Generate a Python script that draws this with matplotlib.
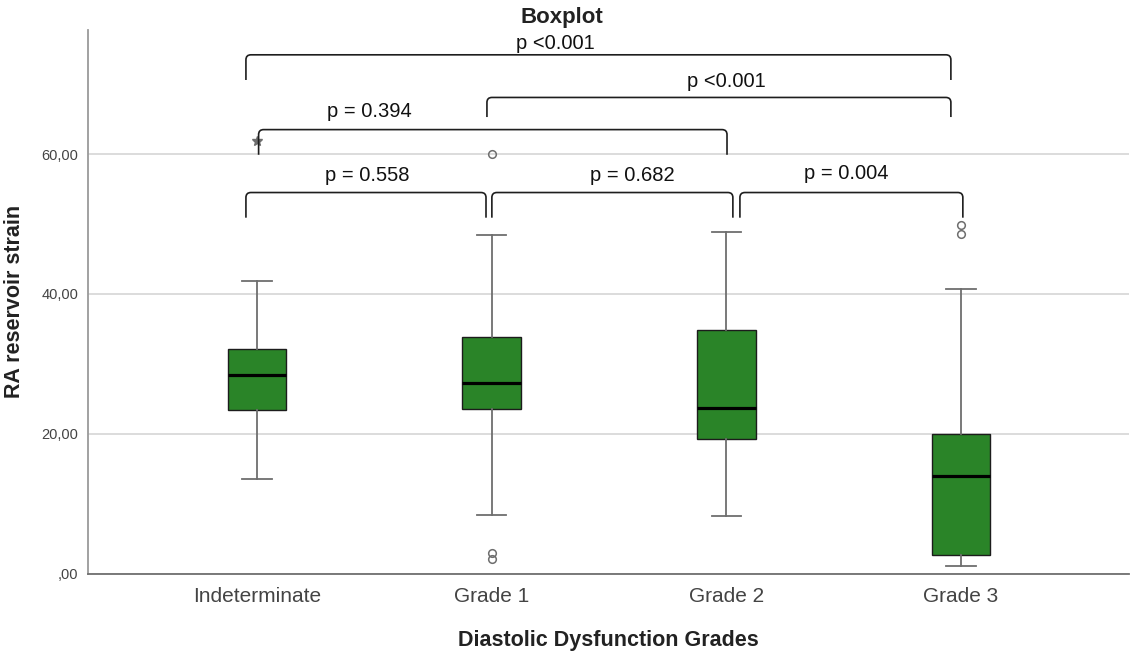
import matplotlib
matplotlib.use("Agg")
import matplotlib.pyplot as plt
from matplotlib.path import Path
from matplotlib.patches import PathPatch

plt.rcParams['font.family'] = ['Liberation Sans', 'DejaVu Sans']

# box statistics
groups = ["Indeterminate", "Grade 1", "Grade 2", "Grade 3"]
q1 = [23.4, 23.5, 19.2, 2.7]
med = [28.4, 27.2, 23.7, 13.9]
q3 = [32.1, 33.8, 34.9, 20.0]
whislo = [13.5, 8.4, 8.2, 1.1]
whishi = [41.9, 48.4, 48.9, 40.7]
outliers = [[], [60.0, 2.9, 2.1], [], [49.9, 48.6]]
extremes = [[61.9], [], [], []]

yticks = [0, 20, 40, 60]
ytick_labels = [",00", "20,00", "40,00", "60,00"]

# pairwise comparisons (p values)
p_labels = ["p <0.001", "p <0.001", "p = 0.394", "p = 0.558", "p = 0.682", "p = 0.004"]

# bracket layout: left x, right x, top y, leg bottom y, text x, text baseline y
br_left = [-0.047, 0.980, 0.007, -0.047, 1.001, 2.058]
br_right = [2.957, 2.957, 2.003, 0.976, 2.028, 3.008]
br_top = [74.2, 68.1, 63.5, 54.5, 54.5, 54.5]
br_bot = [70.6, 65.3, 59.9, 50.9, 50.9, 50.9]
txt_x = [1.27, 2.0, 0.48, 0.47, 1.60, 2.51]
txt_y = [75.0, 69.55, 65.3, 56.2, 56.2, 56.5]

W, H = 1132, 653
fig = plt.figure(figsize=(W / 100, H / 100), dpi=100)
ax = fig.add_axes([88 / W, 1 - 573.5 / H, (1129 - 88) / W, (573.5 - 30) / H])

ax.set_xlim(-0.72, 3.716)
ax.set_ylim(0, 77.75)

stats = []
for i in range(len(groups)):
    stats.append({
        'q1': q1[i], 'med': med[i], 'q3': q3[i],
        'whislo': whislo[i], 'whishi': whishi[i],
        'fliers': outliers[i], 'label': groups[i],
    })

ax.bxp(stats, positions=range(len(groups)), widths=0.25, patch_artist=True,
       boxprops=dict(facecolor='#2a8428', edgecolor='#1c1c1c', linewidth=1.0),
       medianprops=dict(color='black', linewidth=2.3),
       whiskerprops=dict(color='#6e6e6e', linewidth=1.3),
       capprops=dict(color='#6e6e6e', linewidth=1.3),
       flierprops=dict(marker='o', markersize=5.5, markerfacecolor='none',
                       markeredgecolor='#6e6e6e', markeredgewidth=1.1),
       zorder=3)

for i, ext in enumerate(extremes):
    if ext:
        ax.plot([i] * len(ext), ext, linestyle='none', marker='*', markersize=7,
                color='#6e6e6e', zorder=3)

# grid and spines
ax.set_yticks(yticks)
ax.set_yticklabels(ytick_labels)
ax.yaxis.grid(True, color='#d6d6d6', linewidth=1.2, zorder=0)
ax.set_axisbelow(True)
for s in ['top', 'right']:
    ax.spines[s].set_visible(False)
ax.spines['left'].set_color('#9a9a9a')
ax.spines['left'].set_linewidth(1.3)
ax.spines['bottom'].set_color('#707070')
ax.spines['bottom'].set_linewidth(1.3)
ax.tick_params(axis='y', length=0, pad=7, labelsize=10.5, labelcolor='#444444')
ax.tick_params(axis='x', length=0, pad=10, labelsize=15, labelcolor='#444444')
ax.set_xticks(range(len(groups)))
ax.set_xticklabels(groups)

ax.set_xlabel("Diastolic Dysfunction Grades", fontsize=15.5, fontweight='bold',
              color='#222222', va='center')
ax.xaxis.set_label_coords(0.5, -0.1224)
ax.set_ylabel("RA reservoir strain", fontsize=15.5, fontweight='bold',
              color='#222222', va='center')
ax.yaxis.set_label_coords(-0.0706, 0.5)

# brackets with rounded corners
p0 = ax.transData.transform((0, 0))
p1 = ax.transData.transform((1, 1))
rx = 5 / (p1[0] - p0[0])
ry = 5 / (p1[1] - p0[1])

for i in range(len(p_labels)):
    x0, x1, yt, yb = br_left[i], br_right[i], br_top[i], br_bot[i]
    verts = [(x0, yb), (x0, yt - ry), (x0, yt), (x0 + rx, yt),
             (x1 - rx, yt), (x1, yt), (x1, yt - ry), (x1, yb)]
    codes = [Path.MOVETO, Path.LINETO, Path.CURVE3, Path.CURVE3,
             Path.LINETO, Path.CURVE3, Path.CURVE3, Path.LINETO]
    ax.add_patch(PathPatch(Path(verts, codes), facecolor='none', edgecolor='#1e1e1e',
                           linewidth=1.2, clip_on=False, zorder=4))
    ax.text(txt_x[i], txt_y[i], p_labels[i], ha='center', va='baseline',
            fontsize=14.5, color='#111111', zorder=5)

fig.text(562 / W, 1 - 23 / H, "Boxplot", ha='center', va='baseline',
         fontsize=16, fontweight='bold', color='#222222')

fig.savefig("out.png", dpi=100)
